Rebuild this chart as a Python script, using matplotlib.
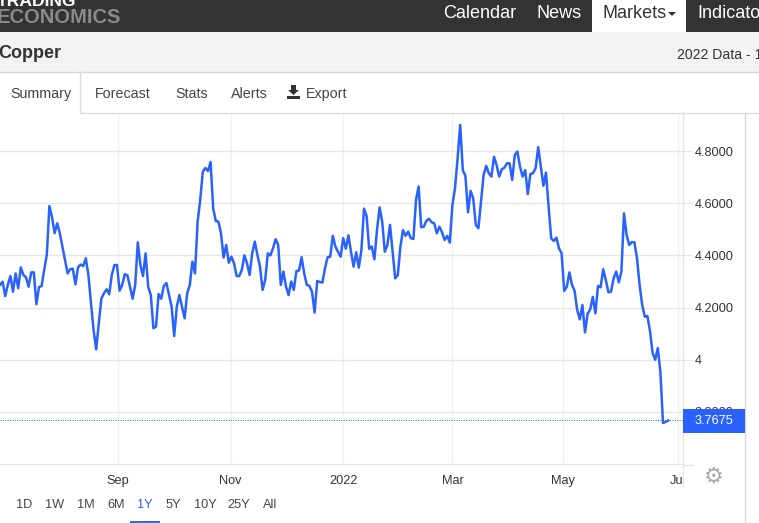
from __future__ import annotations

import matplotlib

matplotlib.use("Agg")
import matplotlib.pyplot as plt
from matplotlib.patches import Polygon, Rectangle


# Copper closing prices, one per trading session.
PRICES = [
    4.287, 4.299, 4.244, 4.287, 4.321, 4.261, 4.331, 4.274, 4.354, 4.325,
    4.316, 4.280, 4.335, 4.335, 4.213, 4.278, 4.283, 4.344, 4.402, 4.589,
    4.548, 4.485, 4.523, 4.485, 4.434, 4.382, 4.331, 4.347, 4.349, 4.289,
    4.354, 4.365, 4.359, 4.389, 4.325, 4.216, 4.114, 4.040, 4.140, 4.235,
    4.255, 4.270, 4.251, 4.325, 4.363, 4.363, 4.265, 4.287, 4.328, 4.324,
    4.280, 4.234, 4.287, 4.450, 4.363, 4.321, 4.408, 4.280, 4.248, 4.121,
    4.127, 4.252, 4.234, 4.283, 4.294, 4.248, 4.204, 4.091, 4.204, 4.248,
    4.204, 4.159, 4.255, 4.287, 4.376, 4.331, 4.529, 4.612, 4.720, 4.735,
    4.723, 4.758, 4.580, 4.532, 4.529, 4.485, 4.392, 4.440, 4.372,
    4.395, 4.370, 4.321, 4.321, 4.344, 4.400, 4.370, 4.325, 4.408, 4.453,
    4.402, 4.357, 4.268, 4.306, 4.408, 4.400, 4.427, 4.462, 4.440, 4.287,
    4.338, 4.280, 4.248, 4.300, 4.268, 4.340, 4.342, 4.393, 4.331, 4.287,
    4.283, 4.261, 4.181, 4.302, 4.298, 4.296, 4.351, 4.393, 4.395, 4.475,
    4.434, 4.414, 4.395, 4.466, 4.426, 4.477, 4.414, 4.357, 4.412, 4.353,
    4.421, 4.579, 4.551, 4.425, 4.434, 4.385, 4.497, 4.584, 4.529, 4.414,
    4.440, 4.517, 4.414, 4.312, 4.325, 4.434, 4.497, 4.475, 4.491, 4.466,
    4.463, 4.612, 4.664, 4.508, 4.510, 4.533, 4.540, 4.527, 4.523, 4.485,
    4.510, 4.489, 4.459, 4.475, 4.449,
    4.593, 4.657, 4.772, 4.900, 4.727, 4.704, 4.565, 4.647, 4.619, 4.517,
    4.504, 4.606, 4.708, 4.743, 4.715, 4.702, 4.778, 4.746, 4.702, 4.730,
    4.736, 4.753, 4.753, 4.689, 4.785, 4.798, 4.740, 4.702, 4.727, 4.635,
    4.712, 4.715, 4.734, 4.815, 4.740, 4.667, 4.717, 4.587, 4.465, 4.455,
    4.468, 4.427, 4.408, 4.264, 4.280, 4.335, 4.287, 4.264, 4.191, 4.155,
    4.210, 4.105, 4.176, 4.193, 4.241, 4.178, 4.283, 4.278, 4.347, 4.306,
    4.259, 4.261, 4.312, 4.338, 4.297, 4.338, 4.561, 4.478, 4.440, 4.451,
    4.450, 4.389, 4.287, 4.210, 4.165, 4.168, 4.110, 4.026, 4.000, 4.045,
    3.953, 3.758, 3.762, 3.7675,
]
LAST_PRICE = 3.7675

# Month ticks sit at these session numbers on the ordinal axis.
MONTH_TICKS = [45.4, 88.7, 132.0, 174.0, 216.7, 260.9]
MONTH_LABELS = ["Sep", "Nov", "2022", "Mar", "May", "Jul"]
PRICE_TICKS = [3.8, 4.0, 4.2, 4.4, 4.6, 4.8]
PRICE_LABELS = ["3.8000", "4", "4.2000", "4.4000", "4.6000", "4.8000"]

RANGE_LABELS = ["1D", "1W", "1M", "6M", "1Y", "5Y", "10Y", "25Y", "All"]
RANGE_X = [24, 55, 86, 116, 145, 173, 205, 239, 270]
NAV_LABELS = ["Calendar", "News", "Markets", "Indicators"]
NAV_X = [443, 536, 602, 697]
TAB_LABELS = ["Summary", "Forecast", "Stats", "Alerts", "Export"]
TAB_X = [10.5, 95, 175, 231, 306]

WIDTH, HEIGHT = 759, 523
BLUE = "#2962ff"
GRID = "#e6e6e6"


def px(size: float) -> float:
    # CSS-like pixel sizes to points at dpi 100
    return size * 0.72


def draw_page(ov: plt.Axes) -> None:
    # top bar
    ov.add_patch(Rectangle((0, 0), WIDTH, 32, fc="#333333", ec="none"))
    ov.add_patch(Rectangle((592, 0), 94, 32, fc="white", ec="none"))
    ov.text(-3, 6, "TRADING", fontsize=px(17.5), fontweight="bold", color="white", va="baseline")
    ov.text(-3, 23, "ECONOMICS", fontsize=px(20.2), fontweight="bold", color="#8a8a8a", va="baseline")
    for label, x in zip(NAV_LABELS, NAV_X):
        color = "#333333" if label == "Markets" else "white"
        ov.text(x, 14, label, fontsize=px(18), color=color, va="center", clip_on=True)
    ov.add_patch(Polygon([(668, 12), (676, 12), (672, 16)], fc="#333333", ec="none"))

    # title band
    ov.add_patch(Rectangle((0, 32), WIDTH, 40, fc="#f3f3f3", ec="none"))
    ov.plot([0, WIDTH], [72, 72], color="#d8d8d8", lw=1)
    ov.text(-2, 54, "Copper", fontsize=px(18), fontweight="bold", color="#333333", va="center")
    ov.text(677, 55, "2022 Data - 1", fontsize=px(14), color="#333333", va="center", clip_on=True)

    # tabs
    ov.plot([80, 80, WIDTH], [72, 113, 113], color="#dddddd", lw=1)
    for label, x in zip(TAB_LABELS, TAB_X):
        ov.text(x, 94, label, fontsize=px(14.3), color="#444444", va="center")
    ov.add_patch(Polygon(
        [(291, 85), (296, 85), (296, 90), (299, 90), (293.5, 95), (288, 90), (291, 90)],
        fc="#333333", ec="none",
    ))
    ov.add_patch(Rectangle((287, 96), 13, 3, fc="#333333", ec="none"))

    # right price panel
    ov.add_patch(Rectangle((683, 466), 61, 24, fc="white", ec="none", zorder=2))
    ov.plot([683, 683], [113, 487], color=GRID, lw=1, zorder=3)
    ov.plot([745, 745], [113, HEIGHT], color="#d8d8d8", lw=1, zorder=3)
    ov.plot([683, 693], [464.5, 464.5], color=GRID, lw=1, zorder=3)
    ov.add_patch(Rectangle((683, 409), 62, 24, fc=BLUE, ec="none", zorder=4))
    ov.text(695, 421.5, f"{LAST_PRICE:.4f}", fontsize=px(12.8), color="white", va="center", zorder=5)
    ov.text(714, 476.5, "\u2699", fontsize=px(22), color="#a8a8a8", ha="center", va="center",
            family="DejaVu Sans", zorder=5)

    # range selector
    for label, x in zip(RANGE_LABELS, RANGE_X):
        color = BLUE if label == "1Y" else "#444444"
        ov.text(x, 504.5, label, fontsize=px(12.8), color=color, ha="center", va="center")
    ov.plot([131, 159], [522, 522], color=BLUE, lw=1.4)


def main() -> None:
    plt.rcParams["font.family"] = ["Liberation Sans", "DejaVu Sans"]

    fig = plt.figure(figsize=(WIDTH / 100, HEIGHT / 100), dpi=100)
    fig.patch.set_facecolor("white")

    # plot area spans pixels x 0-683, y 113-464.3
    ax = fig.add_axes([0, 1 - 464.3 / HEIGHT, 683 / WIDTH, (464.3 - 113) / HEIGHT])
    ax.set_xlim(0, 683 / 2.6)
    ax.set_ylim(3.5996, 4.9456)
    ax.plot(range(len(PRICES)), PRICES, color=BLUE, lw=1.8, solid_joinstyle="round", zorder=3)
    ax.axhline(LAST_PRICE, color=BLUE, lw=0.72, ls=(0, (1, 1.4)), zorder=2)

    ax.set_xticks(MONTH_TICKS, MONTH_LABELS)
    ax.set_yticks(PRICE_TICKS, PRICE_LABELS)
    ax.yaxis.tick_right()
    ax.tick_params(axis="x", length=0, pad=7.5, labelsize=px(12.8), labelcolor="#333333")
    ax.tick_params(axis="y", length=7.2, width=0.8, color=GRID, pad=1.4, labelsize=px(12.8), labelcolor="#333333")
    ax.grid(axis="y", color=GRID, lw=1, zorder=0)
    ax.grid(axis="x", color="#eef2f6", lw=1, zorder=0)
    ax.set_axisbelow(True)
    for side in ("top", "left", "right"):
        ax.spines[side].set_visible(False)
    ax.spines["bottom"].set_color(GRID)

    ov = fig.add_axes([0, 0, 1, 1], zorder=5)
    ov.set_xlim(0, WIDTH)
    ov.set_ylim(HEIGHT, 0)
    ov.axis("off")
    draw_page(ov)

    fig.savefig("out.png", dpi=100, facecolor="white")
    plt.close(fig)


if __name__ == "__main__":
    main()
